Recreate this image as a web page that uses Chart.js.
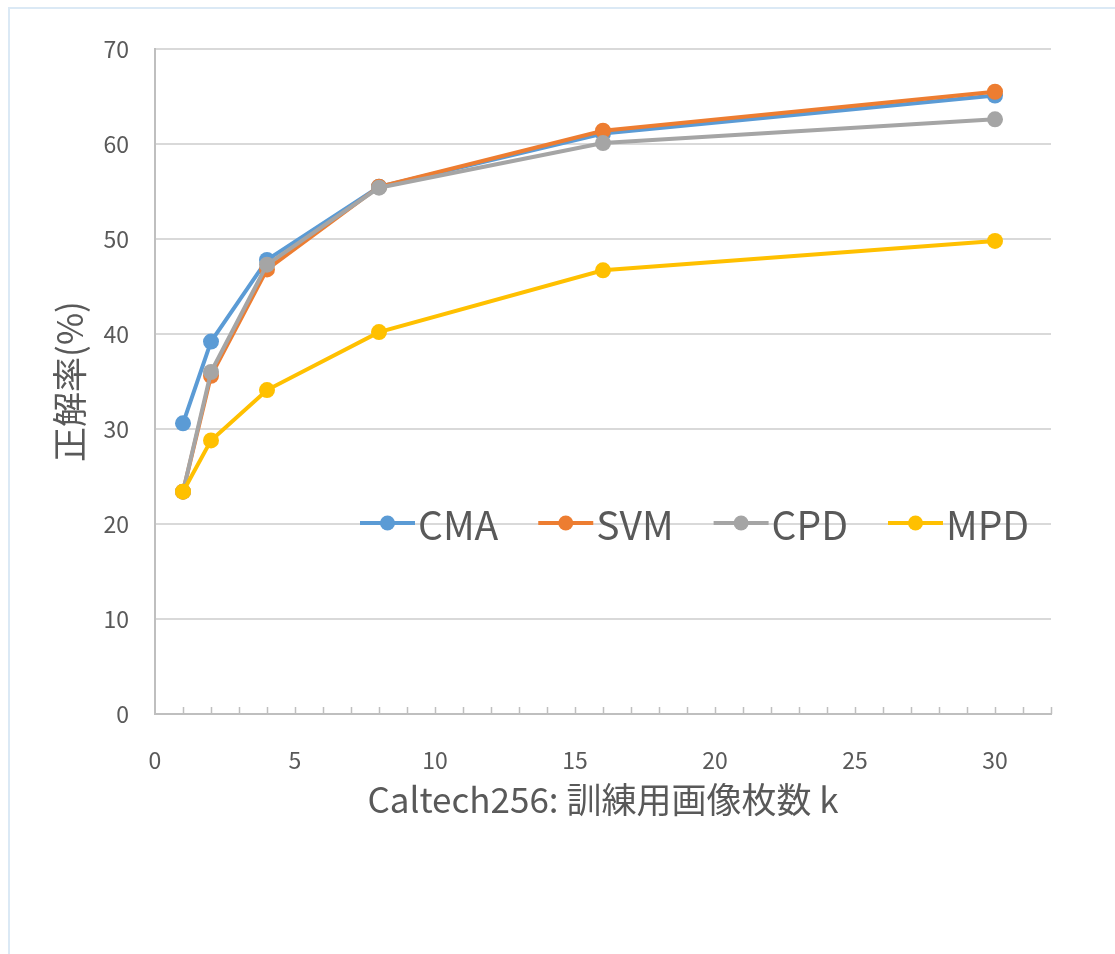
<!DOCTYPE html>
<html>
<head>
<meta charset="utf-8">
<script src="https://cdn.jsdelivr.net/npm/chart.js@4"></script>
<style>
  html, body { margin: 0; padding: 0; background: #ffffff; }
  #wrap { width: 1115px; height: 954px; }
</style>
</head>
<body>
<div id="wrap"><canvas id="c" width="1115" height="954"></canvas></div>
<script>
// Training images per class (k) and recognition accuracy (%) for each method
const kValues = [1, 2, 4, 8, 16, 30];
const cmaAcc = [30.6, 39.2, 47.8, 55.5, 61.1, 65.1];
const svmAcc = [23.4, 35.6, 46.8, 55.5, 61.4, 65.5];
const cpdAcc = [23.4, 36.0, 47.3, 55.4, 60.1, 62.6];
const mpdAcc = [23.4, 28.8, 34.1, 40.2, 46.7, 49.8];

const seriesNames = ['CMA', 'SVM', 'CPD', 'MPD'];
const seriesValues = [cmaAcc, svmAcc, cpdAcc, mpdAcc];
const seriesColors = ['#5b9bd5', '#ed7d31', '#a5a5a5', '#ffc000'];

const xTitle = 'Caltech256: 訓練用画像枚数 k';
const yTitle = '正解率(%)';

const FONT = "'Noto Sans CJK JP', 'Noto Sans', sans-serif";
const TEXT = '#595959';

const datasets = seriesNames.map((name, i) => ({
  label: name,
  data: kValues.map((k, j) => ({ x: k, y: seriesValues[i][j] })),
  borderColor: seriesColors[i],
  backgroundColor: seriesColors[i],
  borderWidth: 4,
  pointRadius: 8,
  pointHoverRadius: 8,
  pointBorderWidth: 0,
  tension: 0,
  order: seriesNames.length - i
}));

// Frame, inward x-axis tick marks, axis titles and the in-plot legend
const decor = {
  id: 'decor',
  beforeDraw(chart) {
    const ctx = chart.ctx;
    ctx.save();
    ctx.fillStyle = '#ffffff';
    ctx.fillRect(0, 0, chart.width, chart.height);
    ctx.strokeStyle = '#dbe9f5';
    ctx.lineWidth = 2;
    ctx.strokeRect(9, 8, chart.width + 20, chart.height + 20);
    ctx.restore();
  },
  afterDatasetsDraw(chart) {
    const ctx = chart.ctx;
    const xs = chart.scales.x;
    const area = chart.chartArea;
    ctx.save();

    // tick marks pointing up into the plot
    ctx.strokeStyle = '#bfbfbf';
    ctx.lineWidth = 1.5;
    xs.ticks.forEach(t => {
      if (t.value === 0) return;
      const px = Math.round(xs.getPixelForValue(t.value)) + 0.5;
      ctx.beginPath();
      ctx.moveTo(px, area.bottom);
      ctx.lineTo(px, area.bottom - 7);
      ctx.stroke();
    });

    // axis titles
    ctx.fillStyle = TEXT;
    ctx.textAlign = 'center';
    ctx.textBaseline = 'middle';
    ctx.font = '35px ' + FONT;
    ctx.fillText(xTitle, (area.left + area.right) / 2, 800);
    ctx.save();
    ctx.translate(70, (area.top + area.bottom) / 2);
    ctx.rotate(-Math.PI / 2);
    ctx.fillText(yTitle, 0, 0);
    ctx.restore();

    // legend: line sample with marker, then the series name
    ctx.font = '39px ' + FONT;
    ctx.textAlign = 'left';
    let x = 360;
    const y = chart.scales.y.getPixelForValue(20) - 1;
    seriesNames.forEach((name, i) => {
      ctx.strokeStyle = seriesColors[i];
      ctx.lineWidth = 4;
      ctx.beginPath();
      ctx.moveTo(x, y);
      ctx.lineTo(x + 55, y);
      ctx.stroke();
      ctx.fillStyle = seriesColors[i];
      ctx.beginPath();
      ctx.arc(x + 27.5, y, 7.5, 0, Math.PI * 2);
      ctx.fill();
      ctx.fillStyle = TEXT;
      ctx.fillText(name, x + 58, y + 2);
      x += 58 + ctx.measureText(name).width + 40;
    });
    ctx.restore();
  }
};

new Chart(document.getElementById('c'), {
  type: 'line',
  data: { datasets },
  options: {
    responsive: false,
    animation: false,
    events: [],
    layout: { padding: { left: 0, top: 49, right: 64, bottom: 0 } },
    plugins: {
      legend: { display: false },
      tooltip: { enabled: false }
    },
    scales: {
      x: {
        type: 'linear',
        min: 0,
        max: 32,
        grid: { display: false },
        border: { display: true, color: '#bfbfbf', width: 2 },
        ticks: {
          stepSize: 1,
          autoSkip: false,
          maxRotation: 0,
          padding: 24,
          color: TEXT,
          font: { family: FONT, size: 23 },
          callback: v => (v % 5 === 0 ? String(v) : '')
        },
        afterFit(scale) { scale.height = 954 - 714; }
      },
      y: {
        min: 0,
        max: 70,
        grid: { color: '#d9d9d9', lineWidth: 2, drawTicks: false },
        border: { display: true, color: '#bfbfbf', width: 2 },
        ticks: {
          stepSize: 10,
          padding: 26,
          color: TEXT,
          font: { family: FONT, size: 23 }
        },
        afterFit(scale) { scale.width = 155; }
      }
    }
  },
  plugins: [decor]
});
</script>
</body>
</html>
